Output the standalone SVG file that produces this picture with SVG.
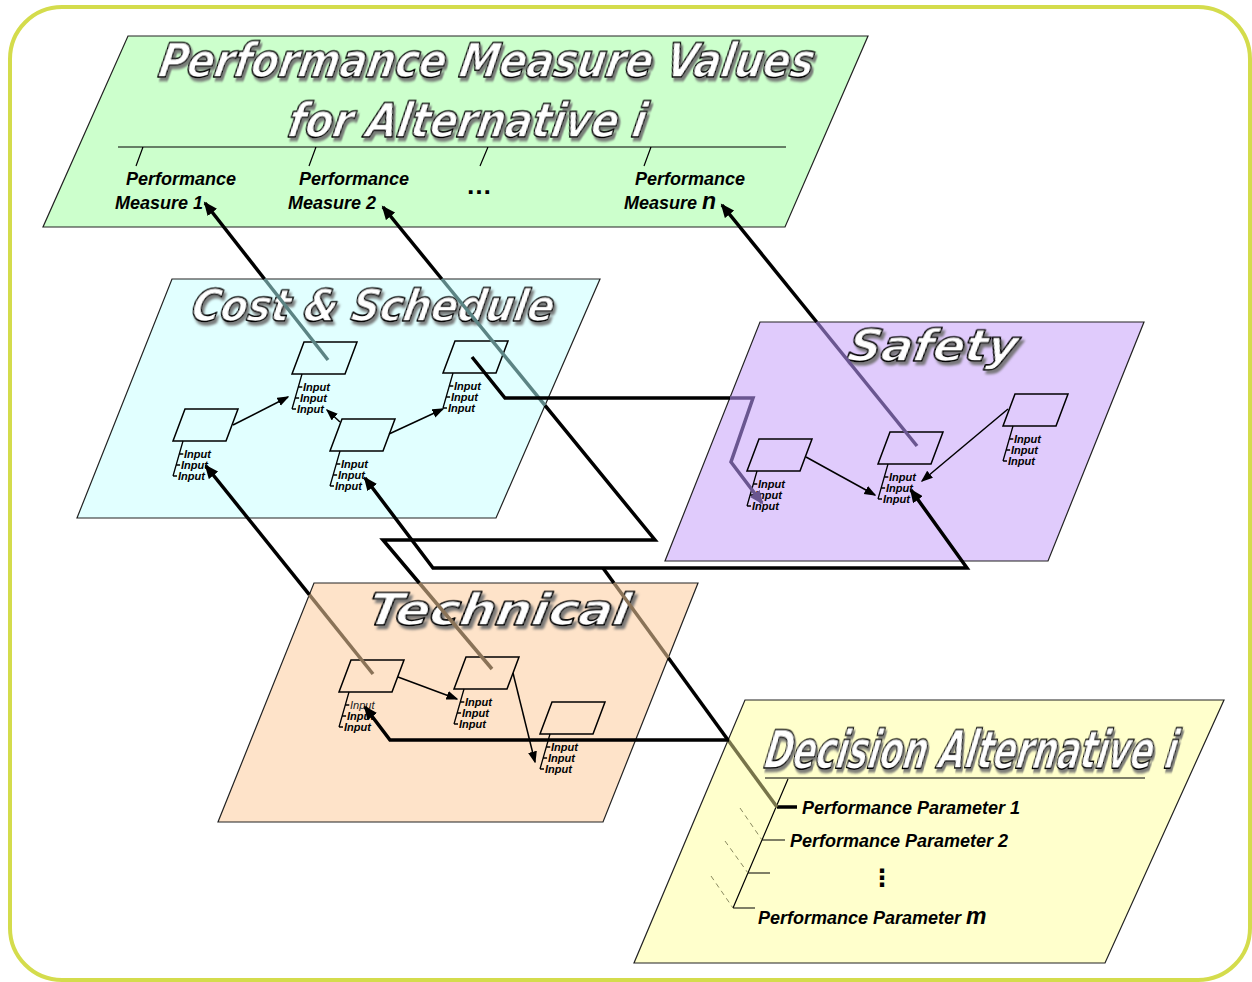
<svg xmlns="http://www.w3.org/2000/svg" width="1252" height="982" viewBox="0 0 1252 982">
<style>
.plane{stroke:#222;stroke-width:1.2}
.node{fill:none;stroke:#000;stroke-width:1.5}
.brk{fill:none;stroke:#000;stroke-width:1.3}
.inp{font-family:"Liberation Sans",Arial,sans-serif;font-size:11px;font-weight:bold;font-style:italic;fill:#000}
.title{font-family:"DejaVu Sans","Liberation Sans",sans-serif;font-weight:bold;font-style:italic;fill:#fff;stroke:#000;stroke-width:1.6;stroke-linejoin:round;filter:url(#shadow)}
.lbl{font-family:"Liberation Sans",Arial,sans-serif;font-size:18px;font-weight:bold;font-style:italic;fill:#000}
.thin{fill:none;stroke:#000;stroke-width:1.5;marker-end:url(#ahs)}
.k{fill:none;stroke:#000;stroke-width:3.5;stroke-linejoin:miter}
.tc{fill:none;stroke:#5c8484;stroke-width:3.5}
.tp{fill:none;stroke:#6a5690;stroke-width:3.5}
.tb{fill:none;stroke:#8a7358;stroke-width:3.5}
.to{fill:none;stroke:#77744a;stroke-width:3.5}
.line{fill:none;stroke:#000;stroke-width:1.2}
</style>
<defs>
<filter id="shadow" x="-10%" y="-30%" width="125%" height="180%">
<feDropShadow dx="3" dy="3.5" stdDeviation="0.9" flood-color="#707070" flood-opacity="0.9"/>
</filter>
<marker id="ah" markerUnits="userSpaceOnUse" markerWidth="15" markerHeight="12" refX="12" refY="6" orient="auto">
<path d="M0,0 L14,6 L0,12 z" fill="#000"/>
</marker>
<marker id="ahp" markerUnits="userSpaceOnUse" markerWidth="15" markerHeight="12" refX="12" refY="6" orient="auto">
<path d="M0,0 L14,6 L0,12 z" fill="#6a5690"/>
</marker>
<marker id="ahs" markerUnits="userSpaceOnUse" markerWidth="12" markerHeight="10" refX="10.5" refY="4.5" orient="auto">
<path d="M0,0 L12,4.5 L0,9 z" fill="#000"/>
</marker>
</defs>

<rect id="frame" x="10" y="7" width="1240" height="973" rx="52" ry="52" fill="#fff" stroke="#d4dc4c" stroke-width="4"/>

<g id="performance-measures">
<polygon class="plane" points="128,36 868,36 785,227 43,227" fill="#ccffcc"/>
<text class="title" font-size="47" transform="translate(157,77) skewX(-10) scale(0.844,1)" textLength="776" lengthAdjust="spacingAndGlyphs">Performance Measure Values</text>
<text class="title" font-size="47" transform="translate(286,137) skewX(-10) scale(0.85,1)" textLength="421" lengthAdjust="spacingAndGlyphs">for Alternative i</text>
<path class="line" d="M118,147 H786 M143,147 L136,166 M316,147 L309,166 M488,147 L480,166 M651,147 L644,166"/>
<g id="pm1"><text class="lbl" x="126" y="185">Performance</text><text class="lbl" x="115" y="209">Measure 1</text></g>
<g id="pm2"><text class="lbl" x="299" y="185">Performance</text><text class="lbl" x="288" y="209">Measure 2</text></g>
<text class="lbl" x="466" y="194" style="font-size:26px;font-style:normal">…</text>
<g id="pmn"><text class="lbl" x="635" y="185">Performance</text><text class="lbl" x="624" y="209">Measure <tspan style="font-size:23px">n</tspan></text></g>
</g>

<g id="cost-schedule">
<polygon class="plane" points="172,279 600,279 496,518 77,518" fill="#e1ffff"/>
<text class="title" font-size="44" transform="translate(190,321) skewX(-10) scale(0.892,1)" textLength="406" lengthAdjust="spacingAndGlyphs">Cost &amp; Schedule</text>
<g id="cs-a"><polygon class="node" points="304,342 357,342 345,374 292,374"/>
<path class="brk" d="M302,374 L292,409 M298.3,387 h4 M295.1,398 h4 M292,409 h4"/>
<text class="inp" x="303" y="391">Input</text><text class="inp" x="300" y="402">Input</text><text class="inp" x="297" y="413">Input</text></g>
<g id="cs-b"><polygon class="node" points="455,341 508,341 496,373 443,373"/>
<path class="brk" d="M453,373 L443,408 M449.3,386 h4 M446.1,397 h4 M443,408 h4"/>
<text class="inp" x="454" y="390">Input</text><text class="inp" x="451" y="401">Input</text><text class="inp" x="448" y="412">Input</text></g>
<g id="cs-c"><polygon class="node" points="342,419 395,419 383,451 330,451"/>
<path class="brk" d="M340,451 L330,486 M336.3,464 h4 M333.1,475 h4 M330,486 h4"/>
<text class="inp" x="341" y="468">Input</text><text class="inp" x="338" y="479">Input</text><text class="inp" x="335" y="490">Input</text></g>
<g id="cs-d"><polygon class="node" points="185,409 238,409 226,441 173,441"/>
<path class="brk" d="M183,441 L173,476 M179.3,454 h4 M176.1,465 h4 M173,476 h4"/>
<text class="inp" x="184" y="458">Input</text><text class="inp" x="181" y="469">Input</text><text class="inp" x="178" y="480">Input</text></g>
<path class="thin" d="M233,425 L288,397"/>
<path class="thin" d="M340,422 L327,410"/>
<path class="thin" d="M389,434 L443,409"/>
</g>

<g id="safety">
<polygon class="plane" points="760,322 1144,322 1048,561 665,561" fill="#e0cbfc"/>
<text class="title" font-size="44" transform="translate(846,361) skewX(-10) scale(1.06,1)" textLength="160" lengthAdjust="spacingAndGlyphs">Safety</text>
<g id="sf-1"><polygon class="node" points="759,439 812,439 800,471 747,471"/>
<path class="brk" d="M757,471 L747,506 M753.3,484 h4 M750.1,495 h4 M747,506 h4"/>
<text class="inp" x="758" y="488">Input</text><text class="inp" x="755" y="499">Input</text><text class="inp" x="752" y="510">Input</text></g>
<g id="sf-2"><polygon class="node" points="890,432 943,432 931,464 878,464"/>
<path class="brk" d="M888,464 L878,499 M884.3,477 h4 M881.1,488 h4 M878,499 h4"/>
<text class="inp" x="889" y="481">Input</text><text class="inp" x="886" y="492">Input</text><text class="inp" x="883" y="503">Input</text></g>
<g id="sf-3"><polygon class="node" points="1015,394 1068,394 1056,426 1003,426"/>
<path class="brk" d="M1013,426 L1003,461 M1009.3,439 h4 M1006.1,450 h4 M1003,461 h4"/>
<text class="inp" x="1014" y="443">Input</text><text class="inp" x="1011" y="454">Input</text><text class="inp" x="1008" y="465">Input</text></g>
<path class="thin" d="M806,457 L875,495"/>
<path class="thin" d="M1008,409 L922,481"/>
</g>

<g id="technical">
<polygon class="plane" points="314,583 698,583 603,822 218,822" fill="#fee3c9"/>
<text class="title" font-size="44" transform="translate(366,625) skewX(-10) scale(1.12,1)" textLength="234" lengthAdjust="spacingAndGlyphs">Technical</text>
<g id="tc-1"><polygon class="node" points="351,660 404,660 392,692 339,692"/>
<path class="brk" d="M349,692 L339,727 M345.3,705 h4 M342.1,716 h4 M339,727 h4"/>
<text class="inp" x="350" y="709" style="font-weight:normal;fill:#222">Input</text><text class="inp" x="347" y="720">Input</text><text class="inp" x="344" y="731">Input</text></g>
<g id="tc-2"><polygon class="node" points="466,657 519,657 507,689 454,689"/>
<path class="brk" d="M464,689 L454,724 M460.3,702 h4 M457.1,713 h4 M454,724 h4"/>
<text class="inp" x="465" y="706">Input</text><text class="inp" x="462" y="717">Input</text><text class="inp" x="459" y="728">Input</text></g>
<g id="tc-3"><polygon class="node" points="552,702 605,702 593,734 540,734"/>
<path class="brk" d="M550,734 L540,769 M546.3,747 h4 M543.1,758 h4 M540,769 h4"/>
<text class="inp" x="551" y="751">Input</text><text class="inp" x="548" y="762">Input</text><text class="inp" x="545" y="773">Input</text></g>
<path class="thin" d="M398,677 L457,699"/>
<path class="thin" d="M513,673 L535,762"/>
</g>

<g id="decision">
<polygon class="plane" points="745,700 1224,700 1105,963 634,963" fill="#ffffcc"/>
<text class="title" font-size="52" transform="translate(763,768) skewX(-10) scale(0.654,1)" textLength="630" lengthAdjust="spacingAndGlyphs">Decision Alternative i</text>
<path class="line" d="M765,778 H1145 M788,779 L733,908 M762,840 h23 M748,873 h22 M733,908 h22"/>
<path d="M777,807 H797" stroke="#000" stroke-width="3.5"/>
<path d="M740,808 L762,840 M725,841 L748,873 M711,876 L733,908" fill="none" stroke="#8a8a60" stroke-width="1" stroke-dasharray="5,4"/>
<g id="pp1"><text class="lbl" x="802" y="814">Performance Parameter 1</text></g>
<g id="pp2"><text class="lbl" x="790" y="847">Performance Parameter 2</text></g>
<text x="870" y="886" font-family="DejaVu Sans,sans-serif" font-size="24" font-weight="bold">⋮</text>
<g id="ppm"><text class="lbl" x="758" y="924">Performance Parameter <tspan style="font-size:23px">m</tspan></text></g>
</g>

<g id="connectors">
<g id="c-pm1"><path class="tc" d="M328,360 L264.5,279"/><path class="k" d="M264.5,279 L205,203" marker-end="url(#ah)"/></g>
<g id="c-pm2"><path class="tb" d="M492,669 L419.3,583"/><path class="k" d="M419.3,583 L383,540 L655,540 L545,405.4"/><path class="tc" d="M545,405.4 L441.8,279"/><path class="k" d="M441.8,279 L383,207" marker-end="url(#ah)"/></g>
<g id="c-t1-cs"><path class="tb" d="M373,674 L309.3,594.7"/><path class="k" d="M309.3,594.7 L206,466" marker-end="url(#ah)"/></g>
<g id="c-pp1"><path class="to" d="M777,807 L728,740"/><path class="k" d="M728,740 L668.3,657.7"/><path class="tb" d="M668.3,657.7 L613.9,583"/><path class="k" d="M613.9,583 L603,568"/>
<path class="k" d="M603,568 L433,568 L365,478" marker-end="url(#ah)"/><path class="k" d="M603,568 L967,568 L911,490" marker-end="url(#ah)"/></g>
<g id="c-pp1-t1"><path class="k" d="M729,740 L390,740 L365,707" marker-end="url(#ah)"/></g>
<g id="c-cs-sf"><path class="k" d="M472,357 L505,398 L730,398"/><path class="tp" d="M730,398 L753,398 L731,462 L762,503" marker-end="url(#ahp)"/></g>
<g id="c-pmn"><path class="tp" d="M917,446 L816.7,322"/><path class="k" d="M816.7,322 L722,205" marker-end="url(#ah)"/></g>
</g>
</svg>
